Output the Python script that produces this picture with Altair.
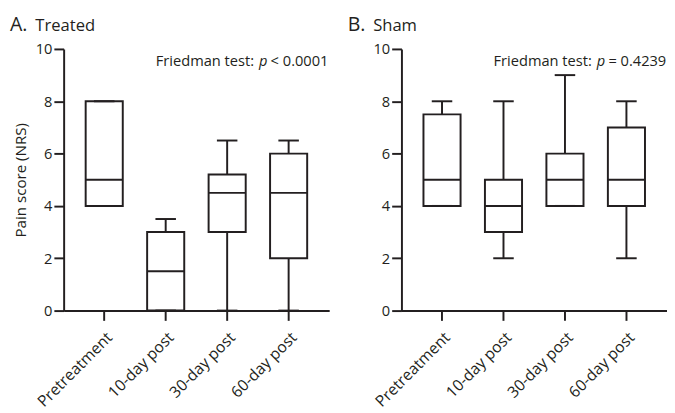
import altair as alt
import pandas as pd

categories = ["Pretreatment", "10-day post", "30-day post", "60-day post"]

treated_min = [4, 0, 0, 0]
treated_q1 = [4, 0, 3, 2]
treated_median = [5, 1.5, 4.5, 4.5]
treated_q3 = [8, 3, 5.2, 6]
treated_max = [8, 3.5, 6.5, 6.5]

sham_min = [4, 2, 4, 2]
sham_q1 = [4, 3, 4, 4]
sham_median = [5, 4, 5, 5]
sham_q3 = [7.5, 5, 6, 7]
sham_max = [8, 8, 9, 8]

panel_letters = ["A.", "B."]
panel_names = ["Treated", "Sham"]
test_prefix = "Friedman test:"
test_p = "p"
test_results = ["< 0.0001", "= 0.4239"]
y_title = "Pain score (NRS)"
y_ticks = [0, 2, 4, 6, 8, 10]

FONT = "Open Sans"
INK = "#231f20"
W, H = 272, 268


def text_layer(txt, x, y, size, style="normal", align="left"):
    return alt.Chart(pd.DataFrame({"t": [txt]})).mark_text(
        align=align, baseline="alphabetic", font=FONT, fontSize=size,
        fontStyle=style, color=INK
    ).encode(x=alt.value(x), y=alt.value(y), text="t:N")


def panel(mins, q1s, meds, q3s, maxs, letter, name, result, show_title):
    df = pd.DataFrame({"cat": categories, "lo": mins, "q1": q1s,
                       "med": meds, "q3": q3s, "hi": maxs})
    xenc = alt.X("cat:N", sort=categories,
                 scale=alt.Scale(paddingInner=0, paddingOuter=0.16),
                 axis=alt.Axis(title=None, labelAngle=-45, labelPadding=9,
                               labelFontSize=16))
    yscale = alt.Scale(domain=[0, 10], nice=False)
    yaxis = alt.Axis(values=y_ticks, title=y_title if show_title else None,
                     titlePadding=7)
    base = alt.Chart(df).encode(x=xenc)

    def ych(f):
        return alt.Y(f + ":Q", scale=yscale, axis=yaxis,
                     title=y_title if show_title else None)

    lower = base.mark_rule(color=INK, strokeWidth=2).encode(y=ych("lo"), y2="q1:Q")
    upper = base.mark_rule(color=INK, strokeWidth=2).encode(y=ych("q3"), y2="hi:Q")
    box = base.mark_bar(size=38, fill="white", stroke=INK, strokeWidth=2).encode(
        y=ych("q1"), y2="q3:Q")
    med = base.mark_tick(size=38, thickness=2, color=INK, opacity=1).encode(y=ych("med"))
    cap_lo = base.mark_tick(size=21, thickness=2, color=INK, opacity=1).encode(y=ych("lo"))
    cap_hi = base.mark_tick(size=21, thickness=2, color=INK, opacity=1).encode(y=ych("hi"))

    t1 = text_layer(letter, -55, -18, 20)
    t2 = text_layer(name, -29, -18, 17)
    t3 = text_layer(test_prefix, 195, 17, 15, align="right")
    t4 = text_layer(test_p, 200, 17, 15, "italic")
    t5 = text_layer(result, 212, 17, 15)

    return alt.layer(lower, upper, box, med, cap_lo, cap_hi, t1, t2, t3, t4, t5).properties(
        width=W, height=H)


a = panel(treated_min, treated_q1, treated_median, treated_q3, treated_max,
          panel_letters[0], panel_names[0], test_results[0], True)
b = panel(sham_min, sham_q1, sham_median, sham_q3, sham_max,
          panel_letters[1], panel_names[1], test_results[1], False)

chart = alt.hconcat(a, b, spacing=19).properties(
    padding={"left": 2, "top": 3, "right": 0, "bottom": 0}
).configure_axis(
    domainColor=INK, domainWidth=2, tickColor=INK, tickWidth=2, tickSize=10,
    labelFont=FONT, labelFontSize=15, labelColor=INK,
    titleFont=FONT, titleFontSize=15.5, titleFontWeight="normal", titleColor=INK,
    grid=False
).configure_view(stroke=None)

chart.save("out.html", embed_options={"renderer": "svg", "actions": False})
